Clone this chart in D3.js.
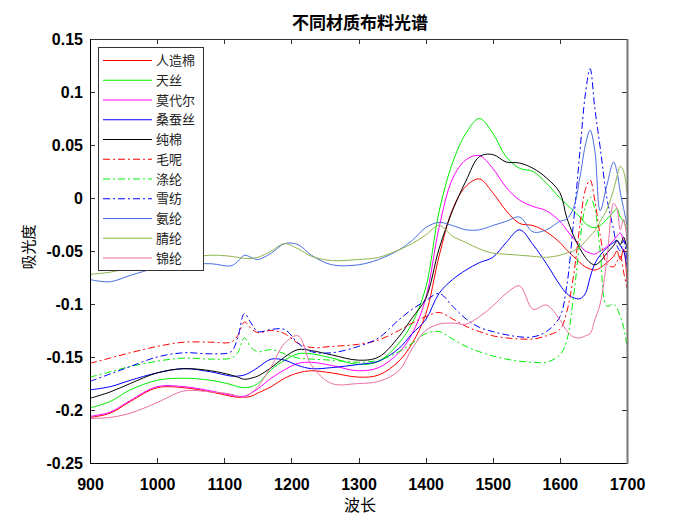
<!DOCTYPE html>
<html><head><meta charset="utf-8">
<script src="https://cdn.jsdelivr.net/npm/d3@7"></script>
<style>body{margin:0;background:#fff;} svg{display:block;}</style>
</head><body>
<svg id="chart" width="693" height="522"></svg>
<script>
const wavelengths = [900, 930, 960, 1000, 1040, 1080, 1110, 1120, 1130, 1140, 1150, 1170, 1190, 1210, 1230, 1260, 1300, 1330, 1360, 1380, 1400, 1420, 1440, 1460, 1480, 1500, 1520, 1540, 1560, 1580, 1600, 1610, 1620, 1630, 1638, 1645, 1652, 1660, 1670, 1680, 1685, 1690, 1695, 1700];

const seriesNames = ["人造棉", "天丝", "莫代尔", "桑蚕丝", "纯棉", "毛呢", "涤纶", "雪纺", "氨纶", "腈纶", "锦纶"];

const rayon = [-0.207, -0.203, -0.192, -0.179, -0.179, -0.183, -0.187, -0.188, -0.188, -0.187, -0.184, -0.178, -0.170, -0.165, -0.163, -0.165, -0.169, -0.167, -0.154, -0.137, -0.110, -0.055, -0.011, 0.011, 0.018, 0.005, -0.012, -0.024, -0.026, -0.032, -0.042, -0.049, -0.055, -0.061, -0.065, -0.067, -0.068, -0.066, -0.061, -0.055, -0.050, -0.058, -0.048, -0.080];
const tencel = [-0.198, -0.192, -0.181, -0.172, -0.170, -0.172, -0.176, -0.178, -0.179, -0.178, -0.175, -0.162, -0.153, -0.147, -0.147, -0.151, -0.157, -0.154, -0.137, -0.118, -0.085, -0.013, 0.033, 0.061, 0.075, 0.061, 0.039, 0.028, 0.025, 0.014, 0.000, -0.006, -0.012, -0.018, -0.024, -0.027, -0.028, -0.026, -0.020, -0.013, -0.010, -0.018, -0.022, -0.030];
const modal = [-0.206, -0.202, -0.191, -0.178, -0.178, -0.182, -0.186, -0.187, -0.187, -0.184, -0.180, -0.170, -0.162, -0.156, -0.155, -0.158, -0.163, -0.160, -0.146, -0.128, -0.095, -0.028, 0.018, 0.036, 0.040, 0.028, 0.010, -0.002, -0.008, -0.012, -0.022, -0.030, -0.038, -0.045, -0.050, -0.052, -0.053, -0.050, -0.046, -0.040, -0.036, -0.033, -0.040, -0.045];
const silk = [-0.181, -0.178, -0.172, -0.165, -0.161, -0.164, -0.168, -0.168, -0.167, -0.164, -0.160, -0.152, -0.153, -0.158, -0.161, -0.160, -0.157, -0.154, -0.142, -0.128, -0.115, -0.090, -0.077, -0.068, -0.061, -0.056, -0.042, -0.030, -0.044, -0.062, -0.082, -0.090, -0.094, -0.095, -0.090, -0.075, -0.062, -0.054, -0.047, -0.042, -0.040, -0.045, -0.050, -0.065];
const cotton = [-0.189, -0.183, -0.175, -0.165, -0.161, -0.163, -0.167, -0.169, -0.171, -0.170, -0.168, -0.160, -0.150, -0.143, -0.144, -0.148, -0.153, -0.150, -0.131, -0.113, -0.095, -0.048, -0.012, 0.016, 0.039, 0.041, 0.034, 0.033, 0.028, 0.019, 0.005, -0.018, -0.035, -0.048, -0.056, -0.061, -0.063, -0.060, -0.052, -0.045, -0.040, -0.044, -0.037, -0.048];
const wool = [-0.156, -0.151, -0.146, -0.140, -0.136, -0.136, -0.136, -0.130, -0.117, -0.123, -0.127, -0.125, -0.128, -0.137, -0.141, -0.140, -0.138, -0.134, -0.125, -0.118, -0.112, -0.108, -0.114, -0.121, -0.126, -0.130, -0.132, -0.133, -0.133, -0.130, -0.124, -0.108, -0.075, -0.025, 0.008, 0.017, -0.002, -0.035, -0.062, -0.065, -0.060, -0.055, -0.070, -0.085];
const polyester = [-0.169, -0.164, -0.159, -0.154, -0.151, -0.152, -0.151, -0.146, -0.132, -0.141, -0.145, -0.143, -0.147, -0.151, -0.152, -0.153, -0.155, -0.153, -0.145, -0.137, -0.128, -0.126, -0.133, -0.140, -0.145, -0.149, -0.152, -0.154, -0.155, -0.155, -0.148, -0.135, -0.095, -0.040, -0.008, 0.001, -0.010, -0.050, -0.102, -0.100, -0.104, -0.112, -0.122, -0.140];
const chiffon = [-0.173, -0.166, -0.159, -0.150, -0.146, -0.147, -0.145, -0.132, -0.109, -0.118, -0.126, -0.124, -0.124, -0.137, -0.145, -0.146, -0.140, -0.132, -0.115, -0.105, -0.097, -0.090, -0.102, -0.114, -0.122, -0.126, -0.129, -0.131, -0.131, -0.126, -0.112, -0.084, -0.025, 0.045, 0.098, 0.122, 0.085, 0.048, 0.000, -0.030, -0.045, -0.050, -0.040, -0.060];
const spandex = [-0.077, -0.079, -0.073, -0.066, -0.063, -0.062, -0.064, -0.060, -0.054, -0.056, -0.058, -0.052, -0.043, -0.044, -0.054, -0.063, -0.063, -0.058, -0.049, -0.040, -0.028, -0.023, -0.026, -0.030, -0.030, -0.026, -0.022, -0.018, -0.032, -0.030, -0.022, -0.020, -0.010, 0.020, 0.050, 0.064, 0.045, -0.012, 0.012, 0.034, 0.025, 0.005, -0.010, -0.025];
const acrylic = [-0.072, -0.070, -0.066, -0.061, -0.057, -0.054, -0.055, -0.056, -0.057, -0.057, -0.056, -0.050, -0.043, -0.048, -0.055, -0.059, -0.058, -0.056, -0.049, -0.043, -0.035, -0.026, -0.036, -0.042, -0.048, -0.052, -0.053, -0.054, -0.055, -0.056, -0.054, -0.052, -0.050, -0.046, -0.041, -0.036, -0.031, -0.022, -0.011, 0.008, 0.020, 0.030, 0.025, 0.005];
const nylon = [-0.208, -0.207, -0.203, -0.193, -0.182, -0.183, -0.185, -0.187, -0.188, -0.184, -0.178, -0.159, -0.137, -0.130, -0.158, -0.175, -0.175, -0.173, -0.163, -0.142, -0.125, -0.119, -0.118, -0.119, -0.112, -0.102, -0.090, -0.083, -0.105, -0.101, -0.115, -0.125, -0.131, -0.132, -0.130, -0.128, -0.115, -0.100, -0.058, -0.005, -0.010, -0.030, -0.020, -0.040];

const xTickValues = [900, 1000, 1100, 1200, 1300, 1400, 1500, 1600, 1700];
const yTickValues = [0.15, 0.1, 0.05, 0, -0.05, -0.1, -0.15, -0.2, -0.25];
const yTickLabels = ["0.15", "0.1", "0.05", "0", "-0.05", "-0.1", "-0.15", "-0.2", "-0.25"];

const titleText = "不同材质布料光谱";
const xLabelText = "波长";
const yLabelText = "吸光度";

const seriesValues = [rayon, tencel, modal, silk, cotton, wool, polyester, chiffon, spandex, acrylic, nylon];
const colors = ["#ff0000", "#00ee00", "#ff00ff", "#0000ff", "#000000", "#ff0000", "#00ee00", "#0000ff", "#4a6ee0", "#8fb54c", "#ec6fa4"];
const dashed = [false, false, false, false, false, true, true, true, false, false, false];

const svg = d3.select("#chart");
const L = 90, R = 627, T = 39, B = 463;
const x = d3.scaleLinear().domain([900, 1700]).range([L, R]);
const y = d3.scaleLinear().domain([-0.25, 0.15]).range([B, T]);

svg.append("rect").attr("width", 693).attr("height", 522).attr("fill", "#fff");

svg.append("defs").append("clipPath").attr("id", "clip")
  .append("rect").attr("x", L).attr("y", T).attr("width", R - L).attr("height", B - T);

const tickFont = "'Liberation Sans', Arial, sans-serif";

// axes
const gx = svg.append("g").attr("transform", `translate(0,${B})`)
  .call(d3.axisBottom(x).tickValues(xTickValues).tickFormat(d3.format("d")).tickSizeInner(-5).tickSizeOuter(0).tickPadding(16));
const gxt = svg.append("g").attr("transform", `translate(0,${T})`)
  .call(d3.axisTop(x).tickValues(xTickValues).tickFormat("").tickSizeInner(-5).tickSizeOuter(0));
const gy = svg.append("g").attr("transform", `translate(${L},0)`)
  .call(d3.axisLeft(y).tickValues(yTickValues).tickFormat((d, i) => yTickLabels[i]).tickSizeInner(-5).tickSizeOuter(0).tickPadding(7));
const gyr = svg.append("g").attr("transform", `translate(${R},0)`)
  .call(d3.axisRight(y).tickValues(yTickValues).tickFormat("").tickSizeInner(-5).tickSizeOuter(0));

[gx, gxt, gy, gyr].forEach(g => {
  g.select(".domain").remove();
  g.selectAll(".tick line").attr("stroke", "#333").attr("shape-rendering", "crispEdges");
  g.selectAll("text").attr("fill", "#000").attr("font-family", tickFont).attr("font-weight", "bold").attr("font-size", 16);
});

// lines
const line = d3.line().x((d, i) => x(wavelengths[i])).y(d => y(d)).curve(d3.curveCatmullRom.alpha(0.5));
const plot = svg.append("g").attr("clip-path", "url(#clip)");
seriesValues.forEach((vals, k) => {
  plot.append("path").datum(vals)
    .attr("d", line)
    .attr("fill", "none")
    .attr("stroke", colors[k])
    .attr("stroke-width", 1)
    .attr("stroke-dasharray", dashed[k] ? "7,3,2,3" : null);
});

// frame
svg.append("line").attr("x1", L).attr("x2", R).attr("y1", T + 0.5).attr("y2", T + 0.5).attr("stroke", "#333");
svg.append("line").attr("x1", L).attr("x2", R).attr("y1", B + 0.5).attr("y2", B + 0.5).attr("stroke", "#000");
svg.append("line").attr("x1", L + 0.5).attr("x2", L + 0.5).attr("y1", T).attr("y2", B + 1).attr("stroke", "#000");
svg.append("line").attr("x1", R + 0.5).attr("x2", R + 0.5).attr("y1", T).attr("y2", B + 1).attr("stroke", "#777").attr("stroke-width", 2);

// legend
const lg = svg.append("g");
lg.append("rect").attr("x", 98.5).attr("y", 47.5).attr("width", 105).attr("height", 223)
  .attr("fill", "#fff").attr("stroke", "#333").attr("stroke-width", 1);
seriesNames.forEach((name, k) => {
  const ry = 60.5 + k * 19.75;
  lg.append("line").attr("x1", 103).attr("x2", 152).attr("y1", ry).attr("y2", ry)
    .attr("stroke", colors[k]).attr("stroke-width", 1)
    .attr("stroke-dasharray", dashed[k] ? "7,3,2,3" : null);
  lg.append("text").attr("x", 156).attr("y", ry).attr("dy", "0.36em")
    .attr("font-family", "'Noto Sans CJK SC', sans-serif").attr("font-size", 13).attr("fill", "#222")
    .text(name);
});

// title & labels
svg.append("text").attr("x", 360).attr("y", 29).attr("text-anchor", "middle")
  .attr("font-family", "'Noto Sans CJK SC', sans-serif").attr("font-weight", "bold").attr("font-size", 17)
  .text(titleText);
svg.append("text").attr("x", 360).attr("y", 511).attr("text-anchor", "middle")
  .attr("font-family", "'Noto Sans CJK SC', sans-serif").attr("font-size", 16)
  .text(xLabelText);
svg.append("text").attr("transform", "translate(34,247) rotate(-90)").attr("text-anchor", "middle")
  .attr("font-family", "'Noto Sans CJK SC', sans-serif").attr("font-size", 15)
  .text(yLabelText);
</script>
</body></html>
